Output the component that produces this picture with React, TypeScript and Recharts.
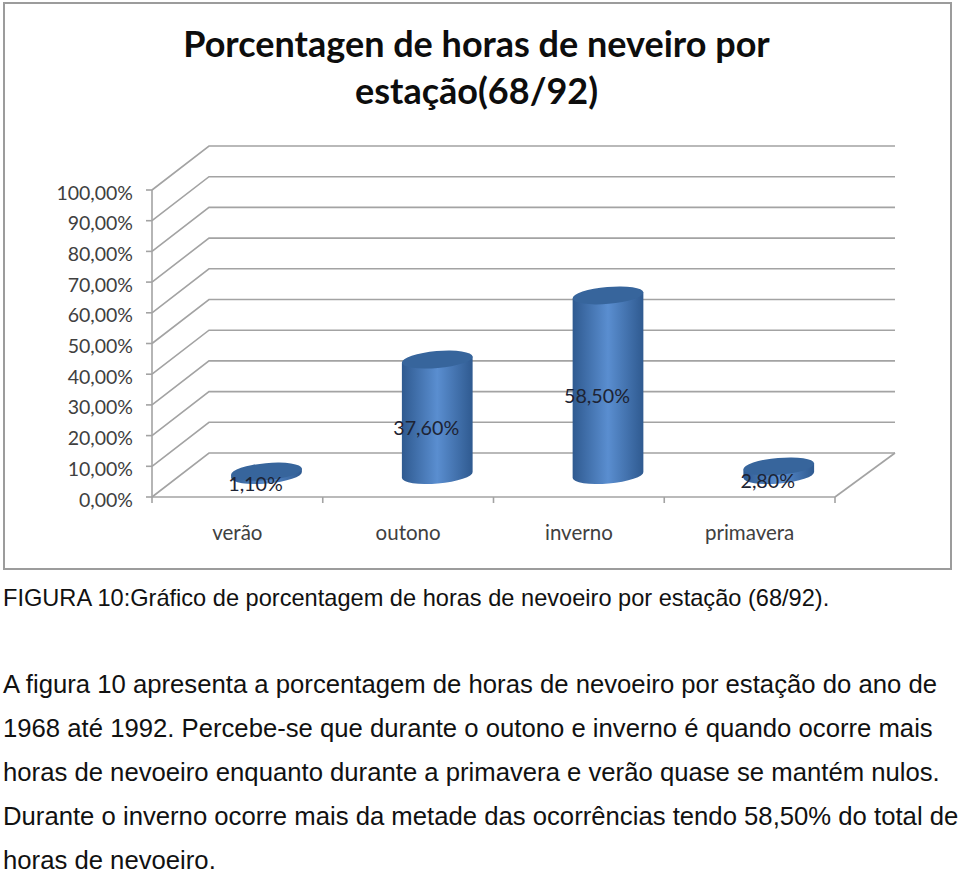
import React from 'react';
import { BarChart, Bar, XAxis, YAxis, CartesianGrid, LabelList } from 'recharts';

const categories = ['verão', 'outono', 'inverno', 'primavera'];
const percentValues = [1.1, 37.6, 58.5, 2.8];
const yTicks = [0, 10, 20, 30, 40, 50, 60, 70, 80, 90, 100];
const titleLines = ['Porcentagen de horas de neveiro por', 'estação(68/92)'];
const captionLine = 'FIGURA 10:Gráfico de porcentagem de horas de nevoeiro por estação (68/92).';
const bodyLines = [
  'A figura 10 apresenta a porcentagem de horas de nevoeiro por estação do ano de',
  '1968 até 1992. Percebe-se que durante o outono e inverno é quando ocorre mais',
  'horas de nevoeiro enquanto durante a primavera e verão quase se mantém nulos.',
  'Durante o inverno ocorre mais da metade das ocorrências tendo 58,50% do total de',
  'horas de nevoeiro.',
];

const data = categories.map((name, i) => ({ name, value: percentValues[i] }));

const DEPTH_X = 57;
const DEPTH_Y = 44;
const PLOT_LEFT = 152;
const PLOT_RIGHT = 835;
const PLOT_TOP = 190;
const PLOT_BOTTOM = 497;
const GRID = '#a3a3a3';
const CHART_FONT = 'Lato, Carlito, sans-serif';
const TEXT_FONT = '"Liberation Sans", Arial, sans-serif';

const fmt = (v: number) => v.toFixed(2).replace('.', ',') + '%';

const GridLine = (props: any) => {
  const { x1, x2, y1 } = props;
  const isFloor = Math.abs(y1 - PLOT_BOTTOM) < 1;
  return (
    <g stroke={GRID} strokeWidth={1.6} fill="none">
      <path d={`M${x1} ${y1} L${x1 + DEPTH_X} ${y1 - DEPTH_Y} L${x2 + 60} ${y1 - DEPTH_Y}`} />
      {isFloor && <path d={`M${x2} ${y1} L${x2 + 60} ${y1 - DEPTH_Y}`} />}
    </g>
  );
};

const Cylinder = (props: any) => {
  const { x, y, width, height } = props;
  const cx = x + width / 2 + DEPTH_X / 2 + 0.5;
  const topY = y - DEPTH_Y / 2;
  const botY = y + height - DEPTH_Y / 2;
  const rx = width / 2;
  const ry = 8.5;
  const rot = -5;
  const dx = rx * Math.cos((rot * Math.PI) / 180);
  const dy = rx * Math.sin((rot * Math.PI) / 180);
  const body = `M${cx - dx} ${topY - dy} L${cx - dx} ${botY - dy} A${rx} ${ry} ${rot} 0 0 ${cx + dx} ${botY + dy} L${cx + dx} ${topY + dy} Z`;
  return (
    <g>
      <path d={body} fill="url(#cylinderBody)" />
      <ellipse cx={cx} cy={topY} rx={rx} ry={ry} fill="#37659c" transform={`rotate(${rot} ${cx} ${topY})`} />
    </g>
  );
};

const DataLabel = (props: any) => {
  const { x, y, width, height, value } = props;
  return (
    <text
      x={x + width / 2 + 18}
      y={y + height / 2 - 12}
      textAnchor="middle"
      dominantBaseline="central"
      fontFamily={CHART_FONT}
      fontSize={19.7}
      fill="#1d2333"
    >
      {fmt(value)}
    </text>
  );
};

const CategoryTick = (props: any) => {
  const { x, payload } = props;
  const band = (PLOT_RIGHT - PLOT_LEFT) / categories.length;
  const isLast = payload.value === categories[categories.length - 1];
  return (
    <g>
      <line x1={x - band / 2} x2={x - band / 2} y1={PLOT_BOTTOM} y2={PLOT_BOTTOM + 6} stroke={GRID} strokeWidth={1.6} />
      {isLast && <line x1={x + band / 2} x2={x + band / 2} y1={PLOT_BOTTOM} y2={PLOT_BOTTOM + 6} stroke={GRID} strokeWidth={1.6} />}
      <text x={x} y={PLOT_BOTTOM + 35} textAnchor="middle" dominantBaseline="central" fontFamily={CHART_FONT} fontSize={20.5} fill="#404040">
        {payload.value}
      </text>
    </g>
  );
};

const ValueTick = (props: any) => {
  const { y, payload } = props;
  return (
    <text x={133} y={y + 2} textAnchor="end" dominantBaseline="central" fontFamily={CHART_FONT} fontSize={19.5} fill="#404040">
      {fmt(payload.value)}
    </text>
  );
};

const textLine = (text: string, top: number, size: number, key: string) => (
  <div
    key={key}
    style={{
      position: 'absolute',
      left: 3,
      top,
      whiteSpace: 'nowrap',
      fontFamily: TEXT_FONT,
      fontSize: size,
      lineHeight: '24px',
      color: '#111',
    }}
  >
    {text}
  </div>
);

export default function App() {
  return (
    <div style={{ position: 'absolute', left: 0, top: 0, width: 959, height: 873, background: '#fff', overflow: 'hidden' }}>
      <div style={{ position: 'absolute', left: 3, top: 2, width: 945, height: 564, border: '2px solid #9c9c9c' }} />
      {titleLines.map((t, i) => (
        <div
          key={t}
          style={{
            position: 'absolute',
            left: 0,
            width: 953,
            top: 20 + i * 47,
            textAlign: 'center',
            fontFamily: CHART_FONT,
            fontWeight: 700,
            fontSize: 36,
            lineHeight: '46px',
            color: '#0d0d0d',
          }}
        >
          {t}
        </div>
      ))}
      <div style={{ position: 'absolute', left: 0, top: 0 }}>
        <BarChart
          width={955}
          height={570}
          data={data}
          margin={{ top: PLOT_TOP, right: 955 - PLOT_RIGHT, bottom: 0, left: 0 }}
          barSize={71}
        >
          <defs>
            <linearGradient id="cylinderBody" x1="0" y1="0" x2="1" y2="0">
              <stop offset="0" stopColor="#2f5a90" />
              <stop offset="0.5" stopColor="#5a8ed0" />
              <stop offset="1" stopColor="#2f5a90" />
            </linearGradient>
          </defs>
          <CartesianGrid vertical={false} horizontal={GridLine as any} />
          <XAxis
            dataKey="name"
            height={570 - PLOT_BOTTOM}
            axisLine={{ stroke: GRID, strokeWidth: 1.6 }}
            tickLine={false}
            interval={0}
            tick={CategoryTick as any}
          />
          <YAxis
            width={PLOT_LEFT}
            domain={[0, 100]}
            ticks={yTicks}
            interval={0}
            axisLine={{ stroke: GRID, strokeWidth: 1.6 }}
            tickLine={{ stroke: GRID, strokeWidth: 1.6 }}
            tickSize={6}
            tick={ValueTick as any}
          />
          <Bar dataKey="value" isAnimationActive={false} shape={Cylinder as any}>
            <LabelList dataKey="value" content={DataLabel as any} />
          </Bar>
        </BarChart>
      </div>
      {textLine(captionLine, 586, 23.6, 'caption')}
      {bodyLines.map((t, i) => textLine(t, 672 + i * 44, 25.7, 'b' + i))}
    </div>
  );
}
